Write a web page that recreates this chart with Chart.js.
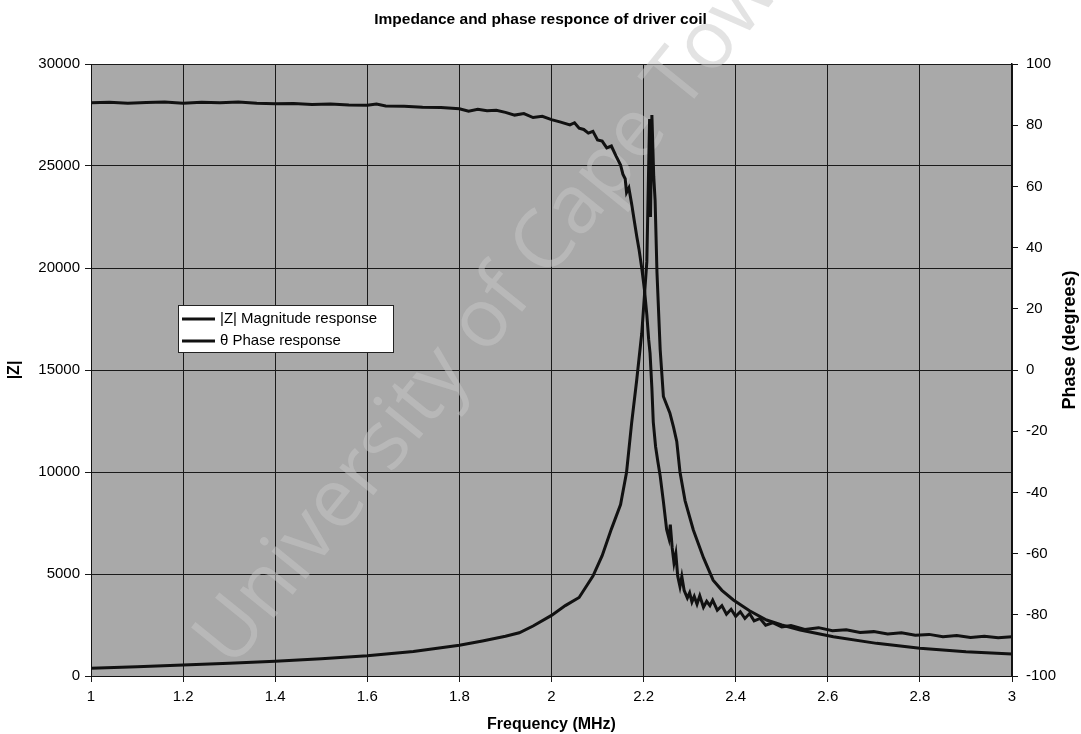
<!DOCTYPE html>
<html>
<head>
<meta charset="utf-8">
<title>Impedance and phase responce of driver coil</title>
<script src="https://cdn.jsdelivr.net/npm/chart.js@4.4.0/dist/chart.umd.min.js"></script>
<style>
  html, body { margin: 0; padding: 0; background: #fff; }
</style>
</head>
<body>
<canvas id="chart" width="1081" height="734"></canvas>
<script>
'use strict';

// |Z| magnitude
var magFreq = [1.00, 1.10, 1.20, 1.30, 1.40, 1.50, 1.60, 1.70, 1.80, 1.85, 1.90, 1.93, 1.96, 2.00,
  2.03, 2.06, 2.09, 2.11, 2.13, 2.15, 2.163, 2.174, 2.185, 2.196, 2.207, 2.211, 2.213, 2.215,
  2.218, 2.222, 2.225, 2.229, 2.236, 2.243, 2.250, 2.257, 2.265, 2.272, 2.279, 2.290, 2.308,
  2.330, 2.351, 2.370, 2.395, 2.430, 2.467, 2.500, 2.540, 2.612, 2.706, 2.800, 2.900, 3.000];
var magValues = [380, 455, 535, 620, 720, 840, 990, 1200, 1510, 1720, 1950, 2120, 2450, 2970,
  3450, 3850, 4900, 5900, 7200, 8400, 9990, 12400, 14500, 16800, 20300, 25000, 27300, 22500,
  27500, 24500, 23300, 19800, 16000, 13700, 13300, 12900, 12200, 11500, 10000, 8600, 7160,
  5800, 4700, 4200, 3725, 3200, 2745, 2500, 2255, 1925, 1600, 1355, 1190, 1080];

// phase in degrees
var phaseFreq = [1.00, 1.04, 1.08, 1.12, 1.16, 1.20, 1.24, 1.28, 1.32, 1.36, 1.40, 1.44, 1.48,
  1.52, 1.56, 1.60, 1.62, 1.64, 1.68, 1.72, 1.76, 1.80, 1.82, 1.84, 1.86, 1.88, 1.90, 1.92,
  1.94, 1.96, 1.98, 2.00, 2.02, 2.04, 2.05, 2.06, 2.07, 2.08, 2.09, 2.10, 2.11, 2.12, 2.13,
  2.14, 2.15, 2.155, 2.16, 2.163, 2.168, 2.174, 2.18, 2.185, 2.19, 2.196, 2.202, 2.207, 2.211,
  2.214, 2.218, 2.221, 2.226, 2.231, 2.236, 2.243, 2.250, 2.255, 2.258, 2.262, 2.266, 2.270,
  2.274, 2.279, 2.283, 2.288, 2.295, 2.300, 2.305, 2.310, 2.316, 2.322, 2.330, 2.337, 2.344,
  2.350, 2.360, 2.370, 2.380, 2.390, 2.400, 2.410, 2.420, 2.430, 2.440, 2.453, 2.465, 2.480,
  2.500, 2.520, 2.550, 2.580, 2.610, 2.640, 2.670, 2.700, 2.730, 2.760, 2.790, 2.820, 2.850,
  2.880, 2.910, 2.940, 2.970, 3.000];
var phaseValues = [87.3, 87.5, 87.2, 87.4, 87.6, 87.2, 87.5, 87.3, 87.6, 87.2, 87.0, 87.1, 86.8,
  86.9, 86.6, 86.5, 86.9, 86.3, 86.2, 85.9, 85.8, 85.4, 84.6, 85.2, 84.7, 84.9, 84.2, 83.3,
  83.8, 82.5, 82.9, 81.8, 81.0, 80.1, 80.8, 79.0, 78.6, 77.4, 78.0, 75.2, 74.8, 72.6, 73.2,
  70.0, 67.0, 64.0, 62.5, 58.0, 59.5, 54.3, 48.5, 43.8, 39.5, 33.3, 26.0, 18.1, 10.0,
  5.5, -6.0, -17.0, -25.0, -30.0, -34.6, -43.0, -52.1, -55.0, -50.5, -58.0, -63.0, -60.0,
  -67.3, -70.8, -67.5, -72.0, -74.5, -72.8, -75.8, -74.0, -76.5, -73.8, -77.5, -75.6, -77.0,
  -75.2, -78.5, -77.0, -79.8, -78.2, -80.5, -79.0, -81.2, -79.6, -82.0, -81.2, -83.4, -82.6,
  -84.0, -83.5, -84.8, -84.2, -85.2, -84.9, -85.8, -85.5, -86.3, -85.9, -86.7, -86.4, -87.2,
  -86.8, -87.4, -87.0, -87.5, -87.2];

var seriesLabels = ['|Z| Magnitude response', '\u03B8 Phase response'];
var freqRange = [1, 3, 0.2];
var magRange = [0, 30000, 5000];
var phaseRange = [-100, 100, 20];

var FONT = '"Liberation Sans", Arial, Helvetica, sans-serif';
Chart.defaults.font.family = FONT;
Chart.defaults.color = '#000';

function toPoints(xs, ys) {
  return xs.map(function (x, i) { return { x: x, y: ys[i] }; });
}

var plotBackground = {
  id: 'plotBackground',
  beforeDraw: function (chart) {
    var a = chart.chartArea, c = chart.ctx;
    c.save();
    c.fillStyle = '#a9a9a9';
    c.fillRect(a.left, a.top, a.right - a.left, a.bottom - a.top);
    c.restore();
  }
};

// the scan carries a faint watermark across the plot
var watermark = {
  id: 'watermark',
  beforeDatasetsDraw: function (chart) {
    var c = chart.ctx;
    c.save();
    c.translate(232, 670);
    c.rotate(-51 * Math.PI / 180);
    c.font = '400 82px "Open Sans", sans-serif';
    c.fillStyle = 'rgba(200,200,200,0.5)';
    c.textBaseline = 'alphabetic';
    c.fillText('University of Cape Town', 0, 0);
    c.restore();
  }
};

var boxLegend = {
  id: 'boxLegend',
  afterDatasetsDraw: function (chart) {
    var c = chart.ctx;
    var x = 178, y = 305, w = 215, h = 47;
    c.save();
    c.fillStyle = '#fff';
    c.fillRect(x, y, w, h);
    c.strokeStyle = '#222';
    c.lineWidth = 1;
    c.strokeRect(x + 0.5, y + 0.5, w, h);
    c.font = '15px ' + FONT;
    c.textBaseline = 'middle';
    chart.data.datasets.forEach(function (ds, i) {
      var ly = y + 14 + i * 22;
      c.strokeStyle = ds.borderColor;
      c.lineWidth = 3;
      c.beginPath();
      c.moveTo(x + 4, ly);
      c.lineTo(x + 37, ly);
      c.stroke();
      c.fillStyle = '#000';
      c.fillText(ds.label, x + 42, ly);
    });
    c.restore();
  }
};

// right axis title reads bottom to top in the original
var rightTitle = {
  id: 'rightTitle',
  afterDraw: function (chart) {
    var c = chart.ctx;
    c.save();
    c.translate(1070, 340);
    c.rotate(-Math.PI / 2);
    c.font = 'bold 18px ' + FONT;
    c.textAlign = 'center';
    c.textBaseline = 'middle';
    c.fillStyle = '#000';
    c.fillText('Phase (degrees)', 0, 0);
    c.restore();
  }
};

var ctx = document.getElementById('chart').getContext('2d');

var chart = new Chart(ctx, {
  type: 'line',
  data: {
    datasets: [{
      label: seriesLabels[0],
      data: toPoints(magFreq, magValues),
      yAxisID: 'y',
      borderColor: '#111',
      borderWidth: 3,
      pointRadius: 0,
      tension: 0,
      fill: false
    }, {
      label: seriesLabels[1],
      data: toPoints(phaseFreq, phaseValues),
      yAxisID: 'y1',
      borderColor: '#111',
      borderWidth: 3,
      pointRadius: 0,
      tension: 0,
      fill: false
    }]
  },
  options: {
    responsive: false,
    animation: false,
    layout: { padding: 0 },
    plugins: {
      legend: { display: false },
      tooltip: { enabled: false },
      title: {
        display: true,
        text: 'Impedance and phase responce of driver coil',
        font: { size: 15.5, weight: 'bold' },
        color: '#000',
        padding: { top: 10, bottom: 35.4 }
      }
    },
    scales: {
      x: {
        type: 'linear',
        min: freqRange[0],
        max: freqRange[1],
        ticks: {
          stepSize: freqRange[2],
          font: { size: 15 },
          padding: 6,
          maxRotation: 0,
          callback: function (v) { return String(Math.round(v * 10) / 10); }
        },
        grid: { color: '#1a1a1a', lineWidth: 1, tickLength: 6 },
        border: { color: '#111', width: 1 },
        title: { display: true, text: 'Frequency (MHz)', font: { size: 16, weight: 'bold' }, padding: 0 },
        afterFit: function (scale) { scale.height = 58; }
      },
      y: {
        position: 'left',
        min: magRange[0],
        max: magRange[1],
        ticks: {
          stepSize: magRange[2],
          font: { size: 15 },
          padding: 5,
          callback: function (v) { return String(v); }
        },
        grid: { color: '#1a1a1a', lineWidth: 1, tickLength: 6 },
        border: { color: '#111', width: 1 },
        title: { display: true, text: '|Z|', font: { size: 16, weight: 'bold' }, padding: { top: 5, bottom: 0 } },
        afterFit: function (scale) { scale.width = 91; }
      },
      y1: {
        position: 'right',
        min: phaseRange[0],
        max: phaseRange[1],
        ticks: { stepSize: phaseRange[2], font: { size: 15 }, padding: 8 },
        grid: { drawOnChartArea: false, color: '#111', tickLength: 6 },
        border: { color: '#111', width: 1.5 },
        afterFit: function (scale) { scale.width = 69; }
      }
    }
  },
  plugins: [plotBackground, watermark, boxLegend, rightTitle]
});
</script>
</body>
</html>
